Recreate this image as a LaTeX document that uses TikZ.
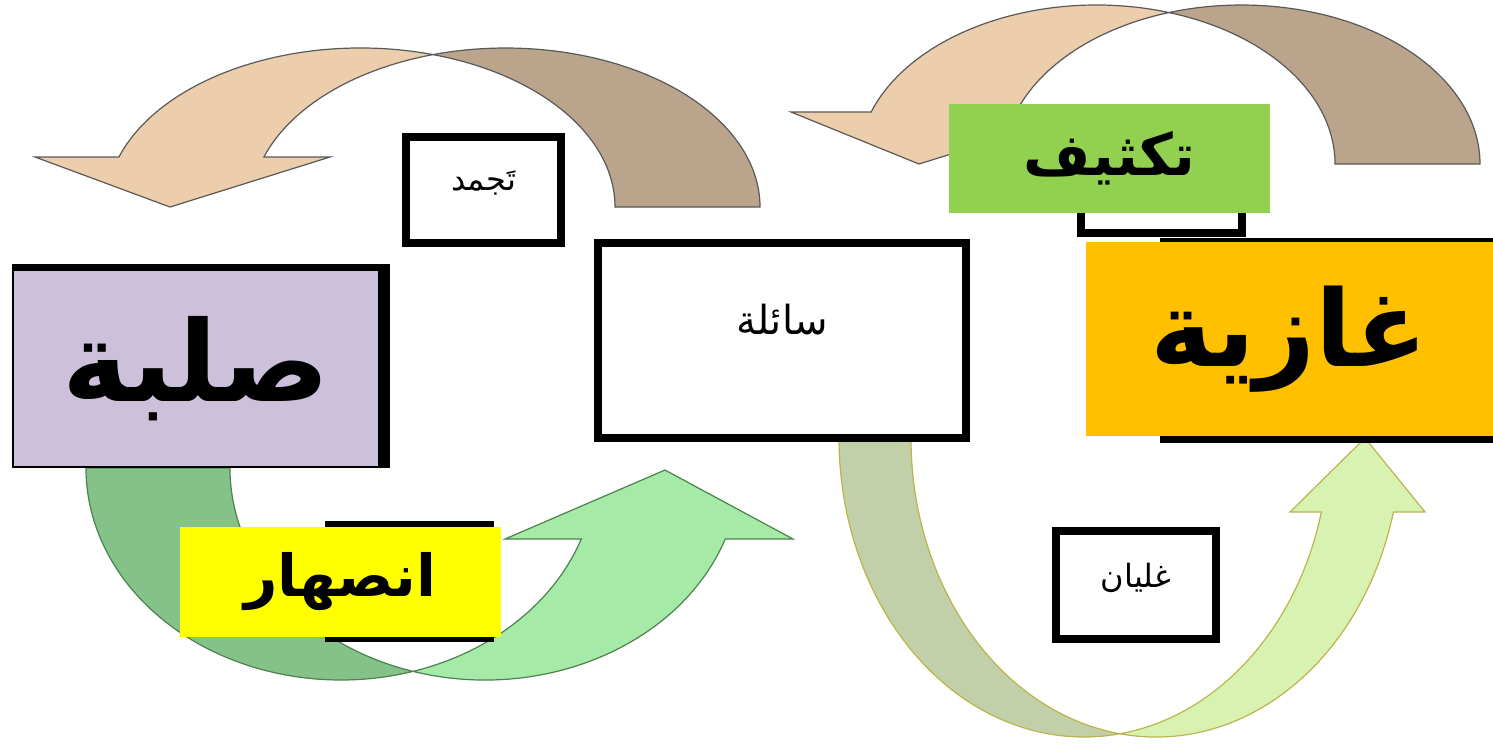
\documentclass[tikz,border=0pt]{standalone}
\usepackage{fontspec}
\usepackage{xcolor}
\usepackage{tikz}
\usetikzlibrary{calc}
\TeXXeTstate=1
\newfontfamily\arabicfont[Script=Arabic]{DejaVu Sans}

\definecolor{tanlight}{RGB}{236,205,172}
\definecolor{tandark}{RGB}{186,165,140}
\definecolor{meltdark}{RGB}{132,194,138}
\definecolor{meltlight}{RGB}{166,234,168}
\definecolor{boildark}{RGB}{193,208,168}
\definecolor{boillight}{RGB}{216,242,178}
\definecolor{solidfill}{RGB}{204,192,218}
\definecolor{gasfill}{RGB}{255,192,0}
\definecolor{condfill}{RGB}{146,208,80}
\definecolor{meltfill}{RGB}{255,255,0}

\begin{document}
\begin{tikzpicture}[x=0.5pt, y=-0.5pt,
        stateframe/.style = {draw=black, line width=4pt, inner sep=0pt, fill=white},
        phase/.style = {inner sep=0pt, font=\arabicfont\bfseries\fontsize{56}{60}\selectfont},
        process/.style = {inner sep=0pt, font=\arabicfont\bfseries\fontsize{29}{34}\selectfont},
        smalltext/.style = {font=\arabicfont\fontsize{16}{18}\selectfont},
        band/.style = {line width=0.6pt}]

        % Page
        \useasboundingbox (0,0) rectangle (1493,752);
        \fill[white] (0,0) rectangle (1493,752);

        % Freezing arrow
        \coordinate (fz1) at (360.5,207);
        \coordinate (fz2) at (505.5,207);
        \filldraw[band, draw=black!65, fill=tandark] ($(fz2)+(-106.55:254.5 and 159)$)
            arc[start angle=-106.55, end angle=0, x radius=254.5, y radius=159]
            -- ($(fz1)+(0:254.5 and 159)$)
            arc[start angle=0, end angle=-73.45, x radius=254.5, y radius=159] -- cycle;
        \filldraw[band, draw=black!65, fill=tanlight] ($(fz1)+(-73.45:254.5 and 159)$)
            arc[start angle=-73.45, end angle=-161.67, x radius=254.5, y radius=159]
            -- (35,157) -- (170,207) -- (330,157)
            -- ($(fz2)+(-161.67:254.5 and 159)$)
            arc[start angle=-161.67, end angle=-106.55, x radius=254.5, y radius=159] -- cycle;

        % Condensation arrow
        \coordinate (cd1) at (1096.5,164);
        \coordinate (cd2) at (1241.5,164);
        \filldraw[band, draw=black!65, fill=tandark] ($(cd2)+(-107.7:238.5 and 159)$)
            arc[start angle=-107.7, end angle=0, x radius=238.5, y radius=159]
            -- ($(cd1)+(0:238.5 and 159)$)
            arc[start angle=0, end angle=-72.3, x radius=238.5, y radius=159] -- cycle;
        \filldraw[band, draw=black!65, fill=tanlight] ($(cd1)+(-72.3:238.5 and 159)$)
            arc[start angle=-72.3, end angle=-160.91, x radius=238.5, y radius=159]
            -- (791,112) -- (919,164) -- (1086,112)
            -- ($(cd2)+(-160.91:238.5 and 159)$)
            arc[start angle=-160.91, end angle=-107.7, x radius=238.5, y radius=159] -- cycle;

        % Melting arrow
        \coordinate (ml1) at (341,468);
        \coordinate (ml2) at (485,468);
        \filldraw[band, draw=green!30!black!70, fill=meltdark] ($(ml1)+(180:255 and 212)$)
            arc[start angle=180, end angle=73.6, x radius=255, y radius=212]
            arc[start angle=106.4, end angle=180, x radius=255, y radius=212] -- cycle;
        \filldraw[band, draw=green!30!black!70, fill=meltlight] ($(ml2)+(106.4:255 and 212)$)
            arc[start angle=106.4, end angle=19.57, x radius=255, y radius=212]
            -- (793,539) -- (665,470) -- (505,539)
            -- ($(ml1)+(19.57:255 and 212)$)
            arc[start angle=19.57, end angle=73.6, x radius=255, y radius=212] -- cycle;

        % Boiling arrow
        \coordinate (bl1) at (1084,438);
        \coordinate (bl2) at (1156,438);
        \filldraw[band, draw=olive!60, fill=boildark] ($(bl1)+(180:245 and 299)$)
            arc[start angle=180, end angle=81.55, x radius=245, y radius=299]
            arc[start angle=98.45, end angle=180, x radius=245, y radius=299] -- cycle;
        \filldraw[band, draw=olive!60, fill=boillight] ($(bl2)+(98.45:245 and 299)$)
            arc[start angle=98.45, end angle=14.33, x radius=245, y radius=299]
            -- (1425,512) -- (1365,438) -- (1290,512)
            -- ($(bl1)+(14.33:245 and 299)$)
            arc[start angle=14.33, end angle=81.55, x radius=245, y radius=299] -- cycle;

        % Label boxes
        \node[stateframe, minimum width=77.5pt, minimum height=53pt] (freeze) at (483.5,190) {};
        \node[smalltext] (freezetxt) at (483.5,183) {\beginR تَجمد\endR};

        \node[stateframe, minimum width=184pt, minimum height=97.5pt] (liquid) at (782,340.5) {};
        \node[smalltext, font=\arabicfont\fontsize{20}{22}\selectfont] (liquidtxt) at (782,320) {\beginR سائلة\endR};

        \node[stateframe, minimum width=80pt, minimum height=54pt] (boil) at (1136,585) {};
        \node[smalltext] (boiltxt) at (1136,578) {\beginR غليان\endR};

        % Frames behind the coloured cards
        \node[stateframe, minimum width=80.5pt, minimum height=53pt] (condframe) at (1161.5,180) {};
        \node[stateframe, minimum width=80.5pt, minimum height=56.5pt] (meltframe) at (409.5,581.5) {};
        \node[stateframe, minimum width=186pt, minimum height=98.5pt] (gasframe) at (1350,340.5) {};
        \node[fill=black, inner sep=0pt, minimum width=189pt, minimum height=102pt] (solidframe) at (201,366) {};

        % Coloured cards
        \node[phase, fill=solidfill, minimum width=182pt, minimum height=97.5pt] (solid) at (196,368.5) {\beginR صلبة\endR};
        \node[phase, fill=gasfill, minimum width=203.5pt, minimum height=97pt,
              font=\arabicfont\bfseries\fontsize{53}{58}\selectfont] (gas) at (1289.5,339) {\beginR غازية\endR};
        \node[process, fill=condfill, minimum width=160.5pt, minimum height=54.5pt] (cond) at (1109.5,158.5) {\beginR تكثيف\endR};
        \node[process, fill=meltfill, minimum width=160.5pt, minimum height=55pt] (melt) at (340.5,582) {\beginR انصهار\endR};

    \end{tikzpicture}
\end{document}
